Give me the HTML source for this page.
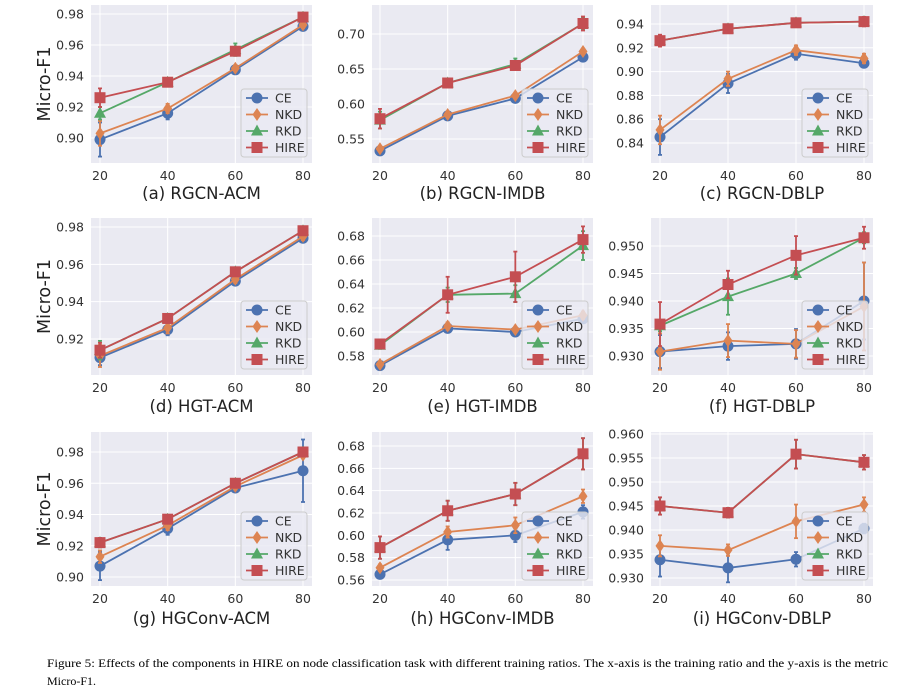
<!DOCTYPE html>
<html><head><meta charset="utf-8">
<style>
body{margin:0;background:#fff;}
svg{display:block;font-family:"DejaVu Sans","Liberation Sans",sans-serif;}
</style></head>
<body>
<svg id="fig" width="901" height="693" viewBox="0 0 901 693">
<text x="47" y="667" font-family="Liberation Serif, serif" font-size="12" textLength="841" lengthAdjust="spacingAndGlyphs" fill="#000">Figure 5: Effects of the components in HIRE on node classification task with different training ratios. The x-axis is the training ratio and the y-axis is the metric</text>
<text x="47" y="685" font-family="Liberation Serif, serif" font-size="12" fill="#000">Micro-F1.</text>
</svg>
<script>
const xCats = [20, 40, 60, 80];
const seriesNames = ["CE", "NKD", "RKD", "HIRE"];
const panelTitles = ["(a) RGCN-ACM","(b) RGCN-IMDB","(c) RGCN-DBLP","(d) HGT-ACM","(e) HGT-IMDB","(f) HGT-DBLP","(g) HGConv-ACM","(h) HGConv-IMDB","(i) HGConv-DBLP"];
const yTicks = [
 [0.90,0.92,0.94,0.96,0.98],[0.55,0.60,0.65,0.70],[0.84,0.86,0.88,0.90,0.92,0.94],
 [0.92,0.94,0.96,0.98],[0.58,0.60,0.62,0.64,0.66,0.68],[0.930,0.935,0.940,0.945,0.950],
 [0.90,0.92,0.94,0.96,0.98],[0.56,0.58,0.60,0.62,0.64,0.66,0.68],[0.930,0.935,0.940,0.945,0.950,0.955,0.960]];
const tickDecimals = [2,2,2,2,2,3,2,2,3];
// values: [CE, NKD, RKD, HIRE] per panel
const ceVals = [[.899,.916,.944,.972],[.533,.583,.608,.667],[.845,.890,.915,.907],[.910,.925,.951,.974],[.572,.603,.600,.611],[.9308,.9318,.9322,.9400],[.907,.931,.957,.968],[.565,.596,.600,.621],[.9338,.9321,.9339,.9403]];
const nkdVals = [[.903,.919,.945,.973],[.536,.585,.612,.675],[.851,.894,.918,.911],[.911,.926,.952,.975],[.573,.605,.602,.614],[.9308,.9328,.9322,.9390],[.913,.933,.958,.978],[.571,.603,.609,.635],[.9367,.9358,.9418,.9453]];
const rkdVals = [[.916,.936,.957,.978],[.577,.630,.657,.715],[.926,.936,.941,.942],[.914,.931,.956,.978],[.589,.631,.632,.672],[.9355,.9408,.9450,.9515],[.922,.937,.960,.980],[.589,.622,.637,.673],[.9450,.9436,.9558,.9541]];
const hireVals = [[.926,.936,.956,.978],[.579,.630,.655,.715],[.926,.936,.941,.942],[.914,.931,.956,.978],[.590,.631,.646,.677],[.9358,.9430,.9483,.9515],[.922,.937,.960,.980],[.589,.622,.637,.673],[.9450,.9436,.9558,.9541]];
const ceErr = [[.011,.004,.002,.002],[.004,.003,.003,.004],[.015,.008,.005,.003],[.004,.003,.002,.002],[.002,.002,.002,.003],[.003,.0025,.0027,.007],[.009,.004,.002,.02],[.003,.009,.006,.006],[.0035,.003,.0015,.001]];
const nkdErr = [[.008,.003,.002,.002],[.004,.003,.003,.004],[.012,.006,.004,.004],[.006,.003,.002,.002],[.002,.003,.002,.003],[.0033,.003,.0025,.008],[.004,.003,.002,.002],[.003,.005,.007,.006],[.0022,.0012,.0035,.0015]];
const rkdErr = [[.004,.002,.004,.002],[.012,.004,.008,.008],[.004,.002,.002,.002],[.005,.002,.002,.002],[.003,.006,.007,.012],[.001,.0033,.001,.001],[.003,.002,.002,.002],[.01,.009,.01,.014],[.0018,.001,.003,.0015]];
const hireErr = [[.006,.002,.002,.002],[.014,.004,.006,.01],[.005,.002,.002,.004],[.004,.002,.002,.002],[.003,.015,.021,.011],[.004,.0025,.0035,.002],[.003,.002,.002,.002],[.01,.009,.01,.014],[.0018,.001,.003,.0015]];

const colors = ["#4c72b0","#dd8452","#55a868","#c44e52"];
const colX = [[91,312,100,303],[372,593,380,583],[651,873,660,864]];
const rowY = [[5,163],[218,375],[432,586]];
const yRef = [[0.98,14,0.90,138],[0.70,34,0.55,139],[0.94,24,0.84,143],[0.98,227,0.92,339],[0.68,236,0.58,356],[0.950,246,0.930,356],[0.98,452,0.90,577],[0.68,446,0.56,580],[0.960,434,0.930,578]];
const captionY = [199,412,624];
const NS = "http://www.w3.org/2000/svg";
const svg = document.getElementById("fig");
function mk(tag, attrs, parent){const e=document.createElementNS(NS,tag);for(const k in attrs)e.setAttribute(k,attrs[k]);(parent||svg).appendChild(e);return e;}
function marker(g, k, x, y){
  const c = colors[k]; let m;
  if(k===0){m=mk("circle",{cx:x,cy:y,r:5.5,fill:c},g);}
  else if(k===1){m=mk("polygon",{points:`${x},${y-6.5} ${x+4.5},${y} ${x},${y+6.5} ${x-4.5},${y}`,fill:c},g);}
  else if(k===2){m=mk("polygon",{points:`${x},${y-6.5} ${x+6},${y+4.5} ${x-6},${y+4.5}`,fill:c},g);}
  else {m=mk("rect",{x:x-5.5,y:y-5.5,width:11,height:11,fill:c},g);}
  return m;
}
for(let p=0;p<9;p++){
  const col=p%3,row=Math.floor(p/3);
  const [L,R,x20,x80]=colX[col]; const [T,B]=rowY[row];
  const xs=v=>x20+(v-20)*(x80-x20)/60;
  const [v1,p1,v2,p2]=yRef[p];
  const ys=v=>p1+(v-v1)*(p2-p1)/(v2-v1);
  const g=mk("g",{});
  
  
  mk("rect",{x:L,y:T,width:R-L,height:B-T,fill:"#eaeaf2"},g);
  yTicks[p].forEach(t=>{
    const y=ys(t);
    mk("line",{x1:L,x2:R,y1:y,y2:y,stroke:"#fff","stroke-width":1},g);
    const tx=mk("text",{x:L-7,y:y+4.5,"text-anchor":"end","font-size":12.5,fill:"#333"},g);
    tx.textContent=t.toFixed(tickDecimals[p]);
    
    
  });
  xCats.forEach(c=>{
    const x=xs(c);
    mk("line",{x1:x,x2:x,y1:T,y2:B,stroke:"#fff","stroke-width":1},g);
    const tx=mk("text",{x:x,y:B+17,"text-anchor":"middle","font-size":12.5,fill:"#333"},g);
    tx.textContent=c;
    
    
  });
  const vals=[ceVals[p],nkdVals[p],rkdVals[p],hireVals[p]];
  const errs=[ceErr[p],nkdErr[p],rkdErr[p],hireErr[p]];
  for(let k=0;k<4;k++){
    const sg=mk("g",{},g);
    
    
    const pts=vals[k].map((v,i)=>xs(xCats[i])+","+ys(v)).join(" ");
    mk("polyline",{points:pts,fill:"none",stroke:colors[k],"stroke-width":1.8},sg);
    vals[k].forEach((v,i)=>{
      const x=xs(xCats[i]),e=errs[k][i];
      const yt=ys(v+e),yb=ys(v-e);
      mk("line",{x1:x,x2:x,y1:yt,y2:yb,stroke:colors[k],"stroke-width":1.8},sg);
      mk("line",{x1:x-2,x2:x+2,y1:yt,y2:yt,stroke:colors[k],"stroke-width":1.8},sg);
      mk("line",{x1:x-2,x2:x+2,y1:yb,y2:yb,stroke:colors[k],"stroke-width":1.8},sg);
      const m=marker(sg,k,x,ys(v));
      
      
    });
  }
  const lg=mk("g",{},g);
  
  
  const lx=R-71, ly=B-74;
  mk("rect",{x:lx,y:ly,width:66,height:68,rx:3,fill:"#eaeaf2","fill-opacity":0.8,stroke:"#ccc","stroke-width":1},lg);
  for(let k=0;k<4;k++){
    const ey=ly+9+k*16.5;
    mk("line",{x1:lx+5,x2:lx+27,y1:ey,y2:ey,stroke:colors[k],"stroke-width":1.8},lg);
    marker(lg,k,lx+16,ey);
    const tx=mk("text",{x:lx+34,y:ey+4.5,"font-size":12.5,fill:"#333"},lg);
    tx.textContent=seriesNames[k];
    
    
  }
  const cap=mk("text",{x:(L+R)/2,y:captionY[row],"text-anchor":"middle","font-size":16.5,fill:"#222"},g);
  cap.textContent=panelTitles[p];
  
  
  if(col===0){
    const cy=(T+B)/2;
    const yl=mk("text",{x:50,y:cy,"text-anchor":"middle","font-size":17.5,fill:"#222",transform:`rotate(-90 50 ${cy})`},g);
    yl.textContent="Micro-F1";
    
    
  }
}
</script>
</body></html>
